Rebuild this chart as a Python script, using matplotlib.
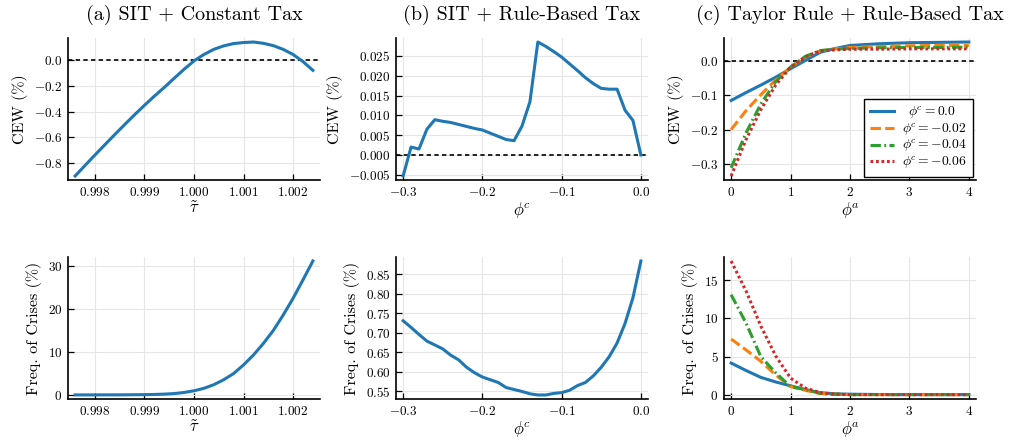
import matplotlib
matplotlib.use("Agg")
import matplotlib.pyplot as plt
from matplotlib.ticker import FixedLocator, FuncFormatter

# ---------------- data ----------------
tau_tilde = [0.9976, 0.9978, 0.9980, 0.9982, 0.9984, 0.9986, 0.9988, 0.9990,
             0.9992, 0.9994, 0.9996, 0.9998, 1.0000, 1.0002, 1.0004, 1.0006,
             1.0008, 1.0010, 1.0012, 1.0014, 1.0016, 1.0018, 1.0020, 1.0022, 1.0024]
cew_a = [-0.900, -0.818, -0.737, -0.657, -0.578, -0.500, -0.424, -0.350,
         -0.279, -0.211, -0.140, -0.070, -0.005, 0.045, 0.085, 0.112,
         0.130, 0.138, 0.142, 0.132, 0.114, 0.085, 0.045, -0.010, -0.078]
crisis_a = [0.02, 0.02, 0.02, 0.03, 0.03, 0.04, 0.06, 0.08, 0.12, 0.20, 0.33,
            0.58, 0.98, 1.55, 2.40, 3.55, 5.00, 7.00, 9.30, 12.0, 15.0, 18.6,
            22.5, 26.8, 31.2]

phi_c = [-0.30, -0.29, -0.28, -0.27, -0.26, -0.25, -0.24, -0.23, -0.22, -0.21,
         -0.20, -0.19, -0.18, -0.17, -0.16, -0.15, -0.14, -0.13, -0.12, -0.11,
         -0.10, -0.09, -0.08, -0.07, -0.06, -0.05, -0.04, -0.03, -0.02, -0.01, 0.00]
cew_b = [-0.0053, 0.0020, 0.0015, 0.0065, 0.0089, 0.0085, 0.0082, 0.0077,
         0.0072, 0.0067, 0.0063, 0.0055, 0.0047, 0.0039, 0.0036, 0.0073,
         0.0134, 0.0285, 0.0274, 0.0261, 0.0247, 0.0230, 0.0213, 0.0195,
         0.0180, 0.0168, 0.0166, 0.0166, 0.0113, 0.0087, 0.0000]
crisis_b = [0.731, 0.714, 0.696, 0.679, 0.669, 0.659, 0.643, 0.631, 0.612,
            0.598, 0.587, 0.580, 0.573, 0.560, 0.555, 0.550, 0.544, 0.541,
            0.541, 0.545, 0.547, 0.553, 0.565, 0.573, 0.590, 0.612, 0.639,
            0.674, 0.724, 0.790, 0.884]

phi_a = [0.0, 0.25, 0.5, 0.75, 1.0, 1.25, 1.5, 1.75, 2.0, 2.5, 3.0, 3.5, 4.0]
series_labels = [r"$\;\;\phi^{\!c} = 0.0$", r"$\phi^{\!c} = -0.02$",
                 r"$\phi^{\!c} = -0.04$", r"$\phi^{\!c} = -0.06$"]
cew_c = [
    [-0.115, -0.092, -0.070, -0.047, -0.022, 0.002, 0.026, 0.037, 0.046, 0.051, 0.054, 0.055, 0.056],
    [-0.200, -0.145, -0.098, -0.055, -0.018, 0.012, 0.030, 0.036, 0.040, 0.043, 0.045, 0.046, 0.046],
    [-0.312, -0.210, -0.125, -0.060, -0.017, 0.014, 0.031, 0.035, 0.037, 0.039, 0.040, 0.040, 0.041],
    [-0.336, -0.230, -0.142, -0.070, -0.018, 0.013, 0.030, 0.033, 0.035, 0.035, 0.036, 0.036, 0.036],
]
crisis_c = [
    [4.17, 3.20, 2.30, 1.70, 1.20, 0.70, 0.30, 0.15, 0.10, 0.06, 0.05, 0.05, 0.05],
    [7.30, 5.90, 4.40, 2.60, 1.10, 0.60, 0.20, 0.10, 0.05, 0.05, 0.05, 0.05, 0.05],
    [13.1, 9.40, 5.00, 2.90, 1.10, 0.70, 0.20, 0.10, 0.05, 0.05, 0.05, 0.05, 0.05],
    [17.5, 13.6, 9.00, 5.10, 2.20, 0.90, 0.30, 0.10, 0.05, 0.05, 0.05, 0.05, 0.05],
]

titles = ["(a) SIT + Constant Tax", "(b) SIT + Rule-Based Tax",
          "(c) Taylor Rule + Rule-Based Tax"]
xlabels = [r"$\tilde{\tau}$", r"$\phi^{\!c}$", r"$\phi^{\!a}$"]
ylabels = ["CEW (%)", "Freq. of Crises (%)"]

xticks_a = [0.998, 0.999, 1.000, 1.001, 1.002]
xticks_b = [-0.3, -0.2, -0.1, 0.0]
xticks_c = [0, 1, 2, 3, 4]
yticks_a_top = [-0.8, -0.6, -0.4, -0.2, 0.0]
yticks_a_bot = [0, 10, 20, 30]
yticks_b_top = [-0.005, 0.000, 0.005, 0.010, 0.015, 0.020, 0.025]
yticks_b_bot = [0.55, 0.60, 0.65, 0.70, 0.75, 0.80, 0.85]
yticks_c_top = [-0.3, -0.2, -0.1, 0.0]
yticks_c_bot = [0, 5, 10, 15]

# ---------------- style ----------------
plt.rcParams["font.family"] = "serif"
plt.rcParams["font.serif"] = ["cmr10"]
plt.rcParams["mathtext.fontset"] = "cm"
plt.rcParams["axes.formatter.use_mathtext"] = True
plt.rcParams["axes.unicode_minus"] = True

colors = ["#1f77b4", "#ff7f0e", "#2ca02c", "#d62728"]
styles = ["-", (0, (3.4, 1.4)), (0, (3.4, 1.1, 0.6, 1.1)), (0, (0.9, 0.9))]
LW = 2.2

W, H = 1011, 441
fig = plt.figure(figsize=(W / 100, H / 100), dpi=100)

lefts = [68, 396, 724]
tops = [38, 257]
aw, ah = 252, 142


def make_ax(col, row):
    l = lefts[col]
    t = tops[row]
    ax = fig.add_axes([l / W, 1 - (t + ah) / H, aw / W, ah / H])
    for s in ["top", "right"]:
        ax.spines[s].set_visible(False)
    for s in ["left", "bottom"]:
        ax.spines[s].set_linewidth(1.2)
        ax.spines[s].set_color("black")
    ax.tick_params(direction="in", length=4, width=0.9, labelsize=9.5,
                   colors="black", pad=4)
    ax.grid(True, color="#e6e6e6", linewidth=0.8, zorder=0)
    ax.set_axisbelow(True)
    return ax


def fmt(nd):
    return FuncFormatter(lambda v, p: r"$%.*f$" % (nd, v))


def pad_lim(vals, frac=0.03):
    lo, hi = min(vals), max(vals)
    r = hi - lo
    return lo - frac * r, hi + frac * r


XL = dict(fontsize=12, labelpad=1)
YL = dict(fontsize=11.5)

# (a) top
ax = make_ax(0, 0)
ax.axhline(0, color="black", lw=1.2, ls=(0, (2.6, 2.0)), zorder=2)
ax.plot(tau_tilde, cew_a, color=colors[0], lw=LW, zorder=3)
ax.set_xlim(*pad_lim(tau_tilde))
ax.set_ylim(*pad_lim(cew_a))
ax.xaxis.set_major_locator(FixedLocator(xticks_a))
ax.xaxis.set_major_formatter(fmt(3))
ax.yaxis.set_major_locator(FixedLocator(yticks_a_top))
ax.yaxis.set_major_formatter(fmt(1))
ax.set_title(titles[0], fontsize=14.5, pad=13)
ax.set_xlabel(xlabels[0], **XL)
ax.set_ylabel(ylabels[0], **YL)

# (a) bottom
ax = make_ax(0, 1)
ax.plot(tau_tilde, crisis_a, color=colors[0], lw=LW, zorder=3)
ax.set_xlim(*pad_lim(tau_tilde))
ax.set_ylim(*pad_lim(crisis_a + [0.0]))
ax.xaxis.set_major_locator(FixedLocator(xticks_a))
ax.xaxis.set_major_formatter(fmt(3))
ax.yaxis.set_major_locator(FixedLocator(yticks_a_bot))
ax.yaxis.set_major_formatter(fmt(0))
ax.set_xlabel(xlabels[0], **XL)
ax.set_ylabel(ylabels[1], **YL)

# (b) top
ax = make_ax(1, 0)
ax.axhline(0, color="black", lw=1.2, ls=(0, (2.6, 2.0)), zorder=2)
ax.plot(phi_c, cew_b, color=colors[0], lw=LW, zorder=3)
ax.set_xlim(*pad_lim(phi_c))
ax.set_ylim(*pad_lim(cew_b))
ax.xaxis.set_major_locator(FixedLocator(xticks_b))
ax.xaxis.set_major_formatter(fmt(1))
ax.yaxis.set_major_locator(FixedLocator(yticks_b_top))
ax.yaxis.set_major_formatter(fmt(3))
ax.set_title(titles[1], fontsize=14.5, pad=13)
ax.set_xlabel(xlabels[1], **XL)
ax.set_ylabel(ylabels[0], **YL)

# (b) bottom
ax = make_ax(1, 1)
ax.plot(phi_c, crisis_b, color=colors[0], lw=LW, zorder=3)
ax.set_xlim(*pad_lim(phi_c))
ax.set_ylim(*pad_lim(crisis_b))
ax.xaxis.set_major_locator(FixedLocator(xticks_b))
ax.xaxis.set_major_formatter(fmt(1))
ax.yaxis.set_major_locator(FixedLocator(yticks_b_bot))
ax.yaxis.set_major_formatter(fmt(2))
ax.set_xlabel(xlabels[1], **XL)
ax.set_ylabel(ylabels[1], **YL)

# (c) top
ax = make_ax(2, 0)
ax.axhline(0, color="black", lw=1.2, ls=(0, (2.6, 2.0)), zorder=2)
allc = []
for i in range(4):
    ax.plot(phi_a, cew_c[i], color=colors[i], lw=LW, ls=styles[i],
            label=series_labels[i], zorder=3 + i)
    allc += cew_c[i]
ax.set_xlim(*pad_lim(phi_a))
ax.set_ylim(*pad_lim(allc))
ax.xaxis.set_major_locator(FixedLocator(xticks_c))
ax.xaxis.set_major_formatter(fmt(0))
ax.yaxis.set_major_locator(FixedLocator(yticks_c_top))
ax.yaxis.set_major_formatter(fmt(1))
ax.set_title(titles[2], fontsize=14.5, pad=13)
ax.set_xlabel(xlabels[2], **XL)
ax.set_ylabel(ylabels[0], **YL)
leg = ax.legend(loc="lower right", fontsize=9.8, frameon=True, fancybox=False,
                handlelength=1.8, handletextpad=0.6, borderpad=0.4,
                labelspacing=0.02, borderaxespad=0.25)
leg.get_frame().set_edgecolor("black")
leg.get_frame().set_linewidth(1.0)
leg.get_frame().set_alpha(1.0)

# (c) bottom
ax = make_ax(2, 1)
allc = []
for i in range(4):
    ax.plot(phi_a, crisis_c[i], color=colors[i], lw=LW, ls=styles[i], zorder=3 + i)
    allc += crisis_c[i]
ax.set_xlim(*pad_lim(phi_a))
ax.set_ylim(*pad_lim(allc + [0.0]))
ax.xaxis.set_major_locator(FixedLocator(xticks_c))
ax.xaxis.set_major_formatter(fmt(0))
ax.yaxis.set_major_locator(FixedLocator(yticks_c_bot))
ax.yaxis.set_major_formatter(fmt(0))
ax.set_xlabel(xlabels[2], **XL)
ax.set_ylabel(ylabels[1], **YL)

fig.savefig("out.png", dpi=100)
